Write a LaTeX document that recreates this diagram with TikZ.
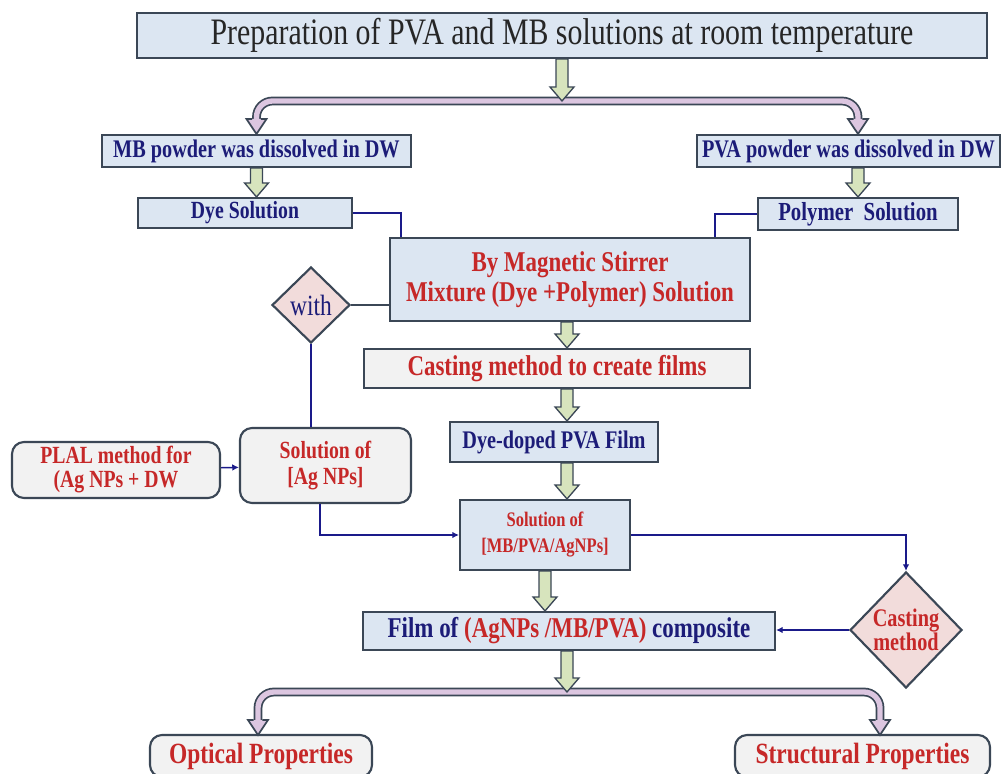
\documentclass[tikz,border=0pt]{standalone}
\usepackage{fontspec}
\setmainfont{Liberation Serif}[FakeStretch=0.8]
\usetikzlibrary{shapes.geometric,arrows.meta,calc}
\definecolor{boxfill}{HTML}{DCE6F2}
\definecolor{boxline}{HTML}{3B4756}
\definecolor{navytext}{HTML}{1C1C78}
\definecolor{redtext}{HTML}{C62828}
\definecolor{grayfill}{HTML}{F2F2F2}
\definecolor{pinkfill}{HTML}{F2DCDB}
\definecolor{greenfill}{HTML}{D7E4BD}
\definecolor{barfill}{HTML}{DCC6E0}
\definecolor{linkblue}{HTML}{1A1A8A}
\newcommand{\bsize}[2]{\fontsize{#1}{#2}\selectfont\bfseries}
\tikzset{
  stage/.style={draw=boxline, line width=1.6pt, fill=boxfill, inner sep=0pt,
    font=\bsize{19}{22}, text=navytext, align=center},
  graybox/.style={stage, fill=grayfill},
  roundbox/.style={graybox, rounded corners=9pt},
  choice/.style={diamond, aspect=1, draw=boxline, line width=1.6pt, fill=pinkfill,
    inner sep=0pt, align=center},
  link/.style={draw=linkblue, line width=1.1pt},
  tip/.style={-{Latex[length=5pt,width=5pt]}},
  greenarrow/.style={draw=boxline, line width=1pt, fill=greenfill,
    to path={let \p1=(\tikztostart), \p2=(\tikztotarget) in
      (\x1-4.5pt,\y1) -- (\x1-4.5pt,\y2+10.5pt) -- (\x1-9pt,\y2+10.5pt) -- (\x1,\y2)
      -- (\x1+9pt,\y2+10.5pt) -- (\x1+4.5pt,\y2+10.5pt) -- (\x1+4.5pt,\y1) -- cycle}},
  splitbar/.style={draw=boxline, double=barfill, double distance=4pt, line width=1.3pt,
    rounded corners=12pt},
  splithead/.style={draw=boxline, line width=1.3pt, fill=barfill,
    to path={let \p1=(\tikztostart), \p2=(\tikztotarget) in
      (\x1-3.3pt,\y1) -- (\x1-7.5pt,\y1) -- (\x2,\y2) -- (\x1+7.5pt,\y1) -- (\x1+3.3pt,\y1)}}
}
\begin{document}
\begin{tikzpicture}[x=0.75pt,y=-0.75pt]
\useasboundingbox (0,0) rectangle (1007,774);
\clip (0,0) rectangle (1007,774);

\node[stage, minimum width=637.5pt, minimum height=33.75pt, text=black!85,
  font=\fontsize{28}{30}\selectfont] (prep) at (562,35.5)
  {Preparation of PVA and MB solutions at room temperature};

\node[stage, minimum width=231.75pt, minimum height=24pt] (mb) at (256.5,151) {MB powder was dissolved in DW};
\node[stage, minimum width=227.25pt, minimum height=24pt] (pva) at (848.5,151) {PVA powder was dissolved in DW};
\node[stage, minimum width=160.5pt, minimum height=22.5pt, font=\bsize{18.5}{20}] (dye) at (245,213) {Dye Solution};
\node[stage, minimum width=150pt, minimum height=24pt, font=\bsize{19.5}{21}] (poly) at (858,214) {Polymer\ \ Solution};

\node[stage, minimum width=270pt, minimum height=62.25pt, text=redtext,
  font=\bsize{21.5}{23}] (mix) at (570,279.5)
  {By Magnetic Stirrer\\Mixture (Dye +Polymer) Solution};
\node[choice, minimum width=58.5pt, minimum height=57pt, text=navytext,
  font=\fontsize{22}{24}\selectfont] (with) at (311,305) {with};

\node[graybox, minimum width=289.5pt, minimum height=29.25pt, text=redtext,
  font=\bsize{21.5}{23}] (cast) at (557,368.5) {Casting method to create films};
\node[stage, minimum width=156pt, minimum height=30pt, font=\bsize{19}{21}] (film1) at (554,442) {Dye-doped PVA Film};

\node[roundbox, minimum width=156pt, minimum height=42pt, text=redtext, font=\bsize{18.5}{18}] (plal) at (116,470)
  {PLAL method for\\(Ag NPs + DW};
\node[roundbox, minimum width=128.25pt, minimum height=56.25pt, text=redtext, font=\bsize{18.5}{19}] (agnp) at (325.5,465.5)
  {Solution of\\{}[Ag NPs]};

\node[stage, minimum width=127.5pt, minimum height=52.5pt, text=redtext,
  font=\bsize{15.5}{19.5}] (mix2) at (545,535)
  {Solution of\\{}[MB/PVA/AgNPs]};
\node[choice, minimum width=84pt, minimum height=87pt, text=redtext, font=\bsize{19}{17}] (castd) at (906,630)
  {Casting\\method};
\node[stage, minimum width=309pt, minimum height=28.5pt, font=\bsize{21.5}{23}] (film2) at (569,631)
  {Film of {\color{redtext}(AgNPs /MB/PVA)} composite};

\node[roundbox, minimum width=166.5pt, minimum height=31.5pt, text=redtext, font=\bsize{22}{24}] (optic) at (261,756) {Optical Properties};
\node[roundbox, minimum width=191.25pt, minimum height=31.5pt, text=redtext, font=\bsize{22}{24}] (struct) at (862.5,756) {Structural Properties};

\coordinate (fork1) at (562,101);
\coordinate (fork2) at (567,692);
\coordinate (optin) at (258,735);
\coordinate (strin) at (880,735);

\draw[splitbar] (mb.north |- 0,119) |- (fork1) -| (poly.north |- 0,119);
\draw[splithead] (mb.north |- 0,119) to (mb.north);
\draw[splithead] (poly.north |- 0,119) to (poly.north |- pva.north);
\draw[greenarrow] (prep.south -| fork1) to (fork1);

\draw[greenarrow] (mb.south) to (mb.south |- dye.north);
\draw[greenarrow] (poly.north |- pva.south) to (poly.north);

\draw[link] (dye.east) -| ([xshift=9pt]mix.north west);
\draw[link] (poly.west) -| ([xshift=-27pt]mix.north east);
\draw[draw=boxline, line width=1.8pt] (with.east) -- (with.east -| mix.west);
\draw[link] (with.south) -- (with.south |- agnp.north);

\draw[greenarrow] (mix.south -| fork2) to (cast.north -| fork2);
\draw[greenarrow] (cast.south -| fork2) to (film1.north -| fork2);
\draw[greenarrow] (film1.south -| fork2) to (mix2.north -| fork2);
\draw[greenarrow] (mix2.south) to (mix2.south |- film2.north);

\draw[link, tip] (plal) -- (agnp);
\draw[link, tip] ([xshift=-4pt]agnp.south) |- (mix2.west);
\draw[link, tip] (mix2.east) -| (castd.north);
\draw[link, tip] (castd.west) -- (castd.west -| film2.east);

\draw[splitbar] (optin |- 0,720) |- (fork2) -| (strin |- 0,720);
\draw[splithead] (optin |- 0,720) to (optin);
\draw[splithead] (strin |- 0,720) to (strin);
\draw[greenarrow] (film2.south -| fork2) to (fork2);
\end{tikzpicture}
\end{document}
